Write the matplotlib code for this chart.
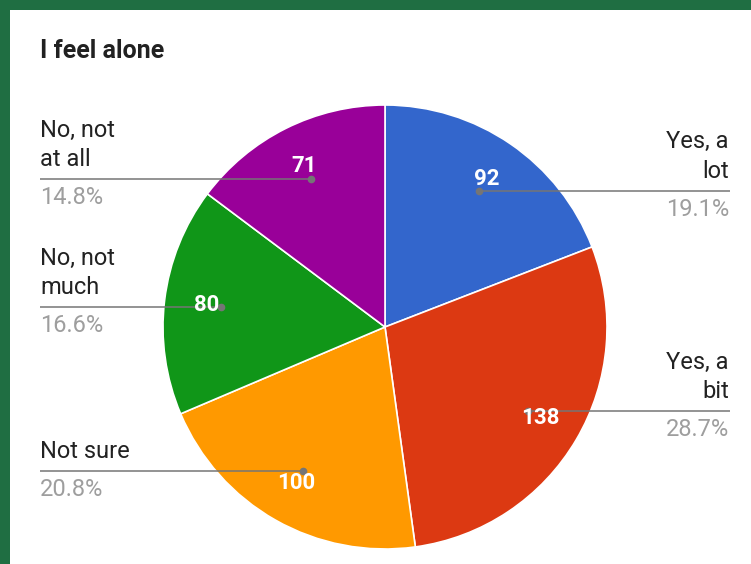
import numpy as np
import matplotlib
matplotlib.use("Agg")
import matplotlib.pyplot as plt
from matplotlib.patches import Rectangle

title = "I feel alone"
categories = ["Yes, a\nlot", "Yes, a\nbit", "Not sure", "No, not\nmuch", "No, not\nat all"]
values = [92, 138, 100, 80, 71]
colors = ["#3366CC", "#DC3912", "#FF9900", "#109618", "#990099"]

plt.rcParams['font.family'] = ['Roboto', 'DejaVu Sans']

W, H = 751, 564
fig = plt.figure(figsize=(W / 100, H / 100), dpi=100)
fig.patch.set_facecolor("white")
ax = fig.add_axes([0, 0, 1, 1])

cx, cy, R = 385, 237, 222
wedges, _ = ax.pie(values, colors=colors, startangle=90, counterclock=False,
                   center=(cx, cy), radius=R,
                   wedgeprops=dict(edgecolor='white', linewidth=1.2))
ax.set_xlim(0, W)
ax.set_ylim(0, H)
ax.set_aspect('equal')
ax.axis('off')

total = sum(values)
line_col = "#757575"
for w, lab, v in zip(wedges, categories, values):
    th = np.deg2rad((w.theta1 + w.theta2) / 2)
    dx, dy = np.cos(th), np.sin(th)
    px, py = cx + 0.745 * R * dx, cy + 0.745 * R * dy
    tx, ty = cx + 0.81 * R * dx, cy + 0.81 * R * dy
    pct = f"{v / total * 100:.1f}%"
    if dx > 0:
        ax.plot([px, 730], [py, py], color=line_col, lw=1.1, zorder=3, solid_capstyle='butt')
        xt, ha = 729, 'right'
    else:
        ax.plot([40, px], [py, py], color=line_col, lw=1.1, zorder=3, solid_capstyle='butt')
        xt, ha = 40, 'left'
    ax.plot([px], [py], 'o', color=line_col, ms=4.5, zorder=3)
    ax.text(xt, py + 8, lab, ha=ha, va='bottom', fontsize=17, color='#222222',
            linespacing=1.35, zorder=4)
    ax.text(xt, py - 7, pct, ha=ha, va='top', fontsize=17, color='#9E9E9E', zorder=4)
    ax.text(tx, ty, str(v), ha='center', va='center', fontsize=16, fontweight='bold',
            color='white', zorder=5)

ax.text(40, H - 58, title, ha='left', va='baseline', fontsize=18, fontweight='bold',
        color='#212121')

border = "#1F6E42"
fig.patches.append(Rectangle((0, 1 - 10 / H), 1, 10 / H, transform=fig.transFigure,
                             facecolor=border, edgecolor='none', zorder=10))
fig.patches.append(Rectangle((0, 0), 10 / W, 1, transform=fig.transFigure,
                             facecolor=border, edgecolor='none', zorder=10))

fig.savefig("out.png", dpi=100, facecolor="white")
